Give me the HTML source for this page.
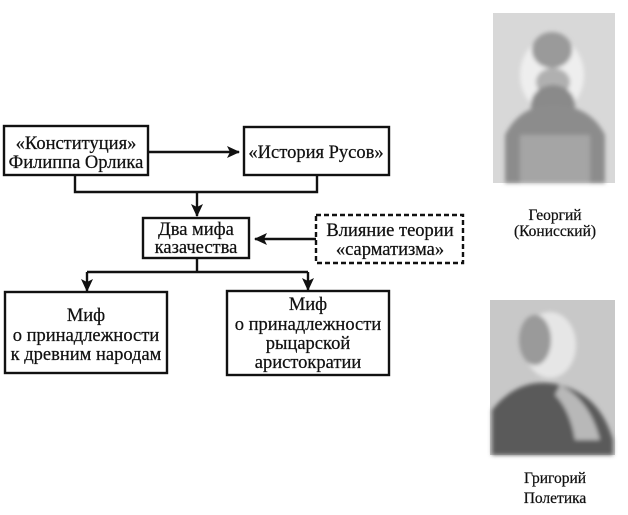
<!DOCTYPE html>
<html><head><meta charset="utf-8"><style>
html,body{margin:0;padding:0;background:#fff;width:628px;height:515px;overflow:hidden}
svg text{font-family:"Liberation Serif","DejaVu Serif",serif;font-size:18.5px;fill:#111;stroke:#111;stroke-width:0.25}
.cap{font-size:15.5px}
</style></head><body>
<svg width="628" height="515" viewBox="0 0 628 515" xmlns="http://www.w3.org/2000/svg">
<defs>
<marker id="a" markerWidth="13" markerHeight="12" refX="12" refY="6" orient="auto" markerUnits="userSpaceOnUse">
<path d="M0,0 L13,6 L0,12 L3,6 z" fill="#111"/></marker>
<filter id="blur"><feGaussianBlur stdDeviation="2"/></filter>
</defs>
<g stroke="#111" stroke-width="2.4" fill="none">
<rect x="4" y="126" width="144" height="49"/>
<rect x="244" y="127" width="145" height="48"/>
<rect x="143" y="218" width="106" height="40"/>
<rect x="316" y="215" width="147" height="48" stroke-dasharray="5,3"/>
<rect x="5" y="292" width="162" height="81"/>
<rect x="227" y="291" width="162" height="84"/>
<line x1="148" y1="152" x2="239" y2="152" marker-end="url(#a)"/>
<polyline points="75,175 75,192 317,192 317,175"/>
<line x1="197" y1="192" x2="197" y2="216" marker-end="url(#a)"/>
<line x1="316" y1="239" x2="255" y2="239" marker-end="url(#a)"/>
<line x1="197" y1="258" x2="197" y2="272"/>
<line x1="87" y1="272" x2="308" y2="272"/>
<line x1="87" y1="272" x2="87" y2="291" marker-end="url(#a)"/>
<line x1="308" y1="272" x2="308" y2="290" marker-end="url(#a)"/>
</g>
<g text-anchor="middle">
<text x="76" y="149">«Конституция»</text>
<text x="76" y="168">Филиппа Орлика</text>
<text x="316" y="158">«История Русов»</text>
<text x="196" y="235">Два мифа</text>
<text x="196" y="253">казачества</text>
<text x="390" y="236">Влияние теории</text>
<text x="390" y="255">«сарматизма»</text>
<text x="86" y="321">Миф</text>
<text x="86" y="341">о принадлежности</text>
<text x="86" y="360">к древним народам</text>
<text x="308" y="310">Миф</text>
<text x="308" y="330">о принадлежности</text>
<text x="308" y="349">рыцарской</text>
<text x="308" y="368">аристократии</text>
<text class="cap" x="555" y="220">Георгий</text>
<text class="cap" x="555" y="236">(Конисский)</text>
<text class="cap" x="555" y="483">Григорий</text>
<text class="cap" x="555" y="503">Полетика</text>
</g>
<rect x="493" y="13" width="122" height="170" fill="#d8d8d8"/>
<g filter="url(#blur)">
<ellipse cx="552" cy="75" rx="32" ry="38" fill="#eee"/>
<ellipse cx="552" cy="50" rx="20" ry="18" fill="#9a9a9a"/>
<ellipse cx="553" cy="82" rx="17" ry="14" fill="#b0b0b0"/>
<ellipse cx="553" cy="105" rx="22" ry="20" fill="#8a8a8a"/>
<path d="M505,183 L505,135 Q520,105 553,105 Q590,105 605,135 L605,183 z" fill="#8c8c8c"/>
<rect x="520" y="135" width="70" height="48" fill="#a5a5a5"/>
</g>
<rect x="490" y="300" width="125" height="155" fill="#c8c8c8"/>
<g filter="url(#blur)">
<ellipse cx="550" cy="345" rx="26" ry="33" fill="#e6e6e6"/>
<ellipse cx="535" cy="340" rx="16" ry="25" fill="#9a9a9a"/>
<path d="M492,455 L492,410 Q520,375 560,385 Q600,395 613,440 L613,455 z" fill="#5a5a5a"/>
<path d="M560,385 Q590,400 600,440 L575,440 Q570,410 555,395 z" fill="#b8b8b8"/>
</g>
</svg>
</body></html>
